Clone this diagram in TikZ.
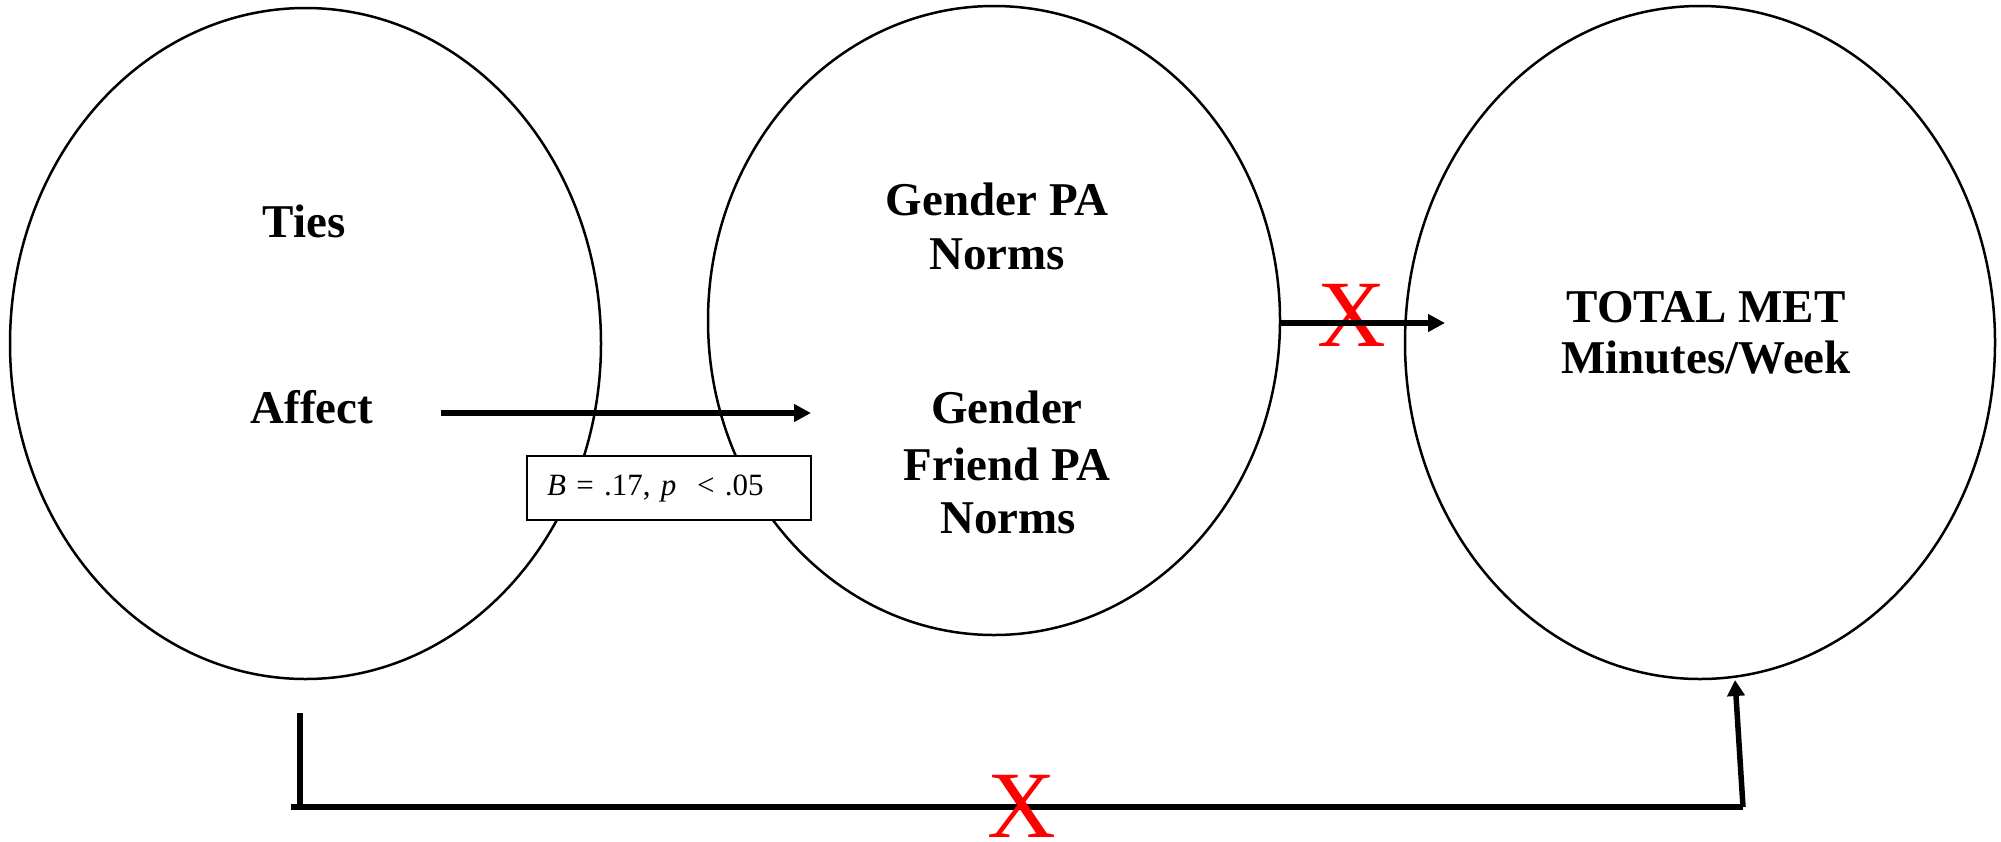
\documentclass[tikz,border=0pt]{standalone}
\usepackage{fontspec}
\setmainfont{Liberation Serif}
\usetikzlibrary{arrows.meta,shapes.geometric}
\begin{document}
\begin{tikzpicture}[x=1pt,y=-1pt,
  oval/.style={draw, line width=2.5pt, ellipse, inner sep=0pt},
  lbl/.style={font=\fontsize{47}{54}\selectfont\bfseries, anchor=base, inner sep=0pt},
  redx/.style={text=red, font=\fontsize{95}{95}\selectfont, anchor=base, inner sep=0pt},
  fatarrow/.style={line width=6pt, -{Triangle[length=17pt,width=17pt]}},
  fatline/.style={line width=6pt}]
\useasboundingbox (0,0) rectangle (2001,841);
% ovals
\node[oval, minimum width=591pt, minimum height=671pt] (e1) at (305.5,343.5) {};
\node[oval, minimum width=572pt, minimum height=629pt] (e2) at (994,320.5) {};
\node[oval, minimum width=590pt, minimum height=673pt] (e3) at (1700,342.5) {};
% labels
\node[lbl] (ties) at (304,237) {Ties};
\node[lbl] (affect) at (312,423) {Affect};
\node[lbl] (gpa1) at (997,215) {Gender PA};
\node[lbl] (gpa2) at (997,269) {Norms};
\node[lbl] (gf1) at (1007,423) {Gender};
\node[lbl] (gf2) at (1007,480) {Friend PA};
\node[lbl] (gf3) at (1008,533) {Norms};
\node[lbl] (met1) at (1706,322) {TOTAL MET};
\node[lbl] (met2) at (1706,373) {Minutes/Week};
% affect arrow
\coordinate (a1) at (441,413);
\coordinate (a2) at (811,413);
\draw[fatarrow] (a1) -- (a2);
% coefficient box
\node[draw, line width=1.5pt, fill=white, minimum height=64pt, text width=244pt, inner xsep=20pt, inner ysep=0pt, align=left,
      font=\fontsize{31}{36}\selectfont] (coef) at (669,488) {\textit{B} = .17, \textit{p}\ \ < .05};
% norms -> MET arrow (non-significant)
\node[redx] (x1) at (1352,346) {X};
\coordinate (m1) at (1279,323);
\coordinate (m2) at (1445,323);
\draw[fatarrow] (m1) -- (m2);
% bottom direct path (non-significant)
\coordinate (s1) at (300,713);
\coordinate (s2) at (300,807);
\coordinate (h1) at (291,807);
\coordinate (h2) at (1743,807);
\coordinate (t2) at (1735,680);
\draw[line width=5.5pt] (s1) -- (s2);
\draw[fatline] (h1) -- (h2);
\draw[line width=5.5pt, -{Triangle[length=16pt,width=17pt]}] (h2) -- (t2);
\node[redx] (x2) at (1022,837) {X};
\end{tikzpicture}
\end{document}
